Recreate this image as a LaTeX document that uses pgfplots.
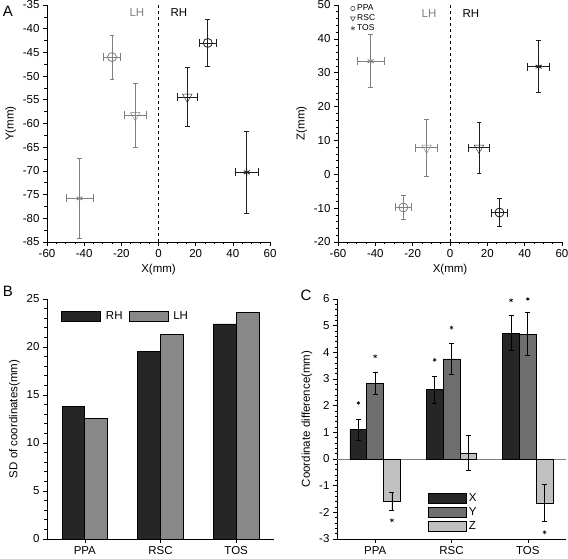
\documentclass[border=0pt]{standalone}
\usepackage{pgfplots}
\pgfplotsset{compat=1.18}
\usepackage{fontspec}
\setmainfont{Liberation Sans}
\definecolor{lhgray}{RGB}{128,128,128}
\definecolor{rhblack}{RGB}{30,30,30}
\definecolor{barX}{RGB}{38,38,38}
\definecolor{barY}{RGB}{110,110,110}
\definecolor{barZ}{RGB}{192,192,192}
\definecolor{barLH}{RGB}{136,136,136}
\pgfplotsset{
  myax/.style={scale only axis, axis lines*=left, tick align=outside,
    tick style={black, line width=0.6pt}, major tick length=4pt, minor tick length=2.5pt,
    axis line style={line width=0.8pt},
    every tick label/.append style={font=\fontsize{11.5}{12}\selectfont},
    label style={font=\fontsize{11.5}{12}\selectfont},
    /pgf/number format/assume math mode=true,
    clip=false},
  xerr/.style={draw=none, mark=none, error bars/x dir=both, error bars/x explicit,
    error bars/error bar style={line width=0.8pt, #1},
    error bars/error mark options={rotate=90, mark size=4pt, line width=0.8pt, #1}},
  yerr/.style={draw=none, #1, mark options={solid, line width=0.8pt, fill=none, #1},
    error bars/y dir=both, error bars/y explicit,
    error bars/error bar style={line width=0.8pt, #1},
    error bars/error mark options={rotate=90, mark size=2.3pt, line width=0.8pt, #1}},
  cerr/.style={error bars/y dir=both, error bars/y explicit,
    error bars/error bar style={line width=0.8pt, black},
    error bars/error mark options={rotate=90, mark size=2.5pt, line width=0.8pt, black}},
}
\begin{document}
\begin{tikzpicture}
\useasboundingbox (0,0) rectangle (568pt,559pt);
% ---------- Panel A left ----------
\begin{axis}[myax, at={(47pt,317pt)}, anchor=south west, width=223pt, height=237pt,
  xmin=-60, xmax=60, ymin=-85, ymax=-35,
  xtick={-60,-40,...,60}, minor x tick num=3,
  ytick={-85,-80,...,-35}, minor y tick num=1,
  xlabel={X(mm)}, ylabel={Y(mm)}]
\draw[dashed, black, line width=0.6pt] (axis cs:0,-85) -- (axis cs:0,-35);
\addplot[xerr=lhgray] coordinates {(-25,-46) +- (4.5,0) (-12.5,-58.3) +- (6,0) (-42.5,-75.8) +- (7.2,0)};
\addplot[xerr=rhblack] coordinates {(26.5,-43) +- (4.5,0) (15.5,-54.4) +- (5.5,0) (47.5,-70.3) +- (6,0)};
\addplot[yerr=lhgray, mark=o, mark size=4.5pt] coordinates {(-25,-46) +- (0,4.6)};
\addplot[yerr=lhgray, mark=triangle, mark size=5.5pt, mark options={rotate=180}] coordinates {(-12.5,-58.3) +- (0,6.8)};
\addplot[yerr=lhgray, mark=asterisk, mark size=3.5pt] coordinates {(-42.5,-75.8) +- (0,8.5)};
\addplot[yerr=rhblack, mark=o, mark size=4.5pt] coordinates {(26.5,-43) +- (0,5)};
\addplot[yerr=rhblack, mark=triangle, mark size=5.5pt, mark options={rotate=180}] coordinates {(15.5,-54.4) +- (0,6.2)};
\addplot[yerr=rhblack, mark=asterisk, mark size=3.5pt] coordinates {(47.5,-70.3) +- (0,8.7)};
\node[lhgray, font=\fontsize{11.5}{12}\selectfont] at (axis cs:-11.6,-36.6) {LH};
\node[black, font=\fontsize{11.5}{12}\selectfont] at (axis cs:11,-36.6) {RH};
\end{axis}
% ---------- Panel A right ----------
\begin{axis}[myax, at={(338pt,317pt)}, anchor=south west, width=224pt, height=237pt,
  xmin=-60, xmax=60, ymin=-20, ymax=50,
  xtick={-60,-40,...,60}, minor x tick num=3,
  ytick={-20,-10,...,50}, minor y tick num=4,
  xlabel={X(mm)}, ylabel={Z(mm)},
  legend style={at={(0.055,1.01)}, anchor=north west, draw=none, fill=none,
    font=\fontsize{8.5}{8.5}\selectfont, inner sep=0pt, row sep=-1.5pt,
    /tikz/every even column/.append style={column sep=1pt}},
  legend cell align=left]
\addlegendimage{only marks, mark=o, mark size=2.2pt, black!70, line width=0.6pt}
\addlegendentry{PPA}
\addlegendimage{only marks, mark=triangle, mark size=2.7pt, mark options={rotate=180}, black!70, line width=0.6pt}
\addlegendentry{RSC}
\addlegendimage{only marks, mark=asterisk, mark size=2.2pt, black!70, line width=0.6pt}
\addlegendentry{TOS}
\draw[dashed, black, line width=0.6pt] (axis cs:0,-20) -- (axis cs:0,50);
\addplot[xerr=lhgray, forget plot] coordinates {(-25,-9.8) +- (4.5,0) (-12.5,7.8) +- (6,0) (-42.5,33.4) +- (7.2,0)};
\addplot[xerr=rhblack, forget plot] coordinates {(26.5,-11.3) +- (4.5,0) (15.5,7.8) +- (5.5,0) (47.5,31.8) +- (6,0)};
\addplot[yerr=lhgray, forget plot, mark=o, mark size=4.5pt] coordinates {(-25,-9.8) +- (0,3.5)};
\addplot[yerr=lhgray, forget plot, mark=triangle, mark size=5.5pt, mark options={rotate=180}] coordinates {(-12.5,7.8) +- (0,8.4)};
\addplot[yerr=lhgray, forget plot, mark=asterisk, mark size=3.5pt] coordinates {(-42.5,33.4) +- (0,7.8)};
\addplot[yerr=rhblack, forget plot, mark=o, mark size=4.5pt] coordinates {(26.5,-11.3) +- (0,4.2)};
\addplot[yerr=rhblack, forget plot, mark=triangle, mark size=5.5pt, mark options={rotate=180}] coordinates {(15.5,7.8) +- (0,7.6)};
\addplot[yerr=rhblack, forget plot, mark=asterisk, mark size=3.5pt] coordinates {(47.5,31.8) +- (0,7.6)};
\node[lhgray, font=\fontsize{11.5}{12}\selectfont] at (axis cs:-11.2,47.6) {LH};
\node[black, font=\fontsize{11.5}{12}\selectfont] at (axis cs:11.2,47.6) {RH};
\end{axis}
% ---------- Panel B ----------
\begin{axis}[myax, at={(47pt,20pt)}, anchor=south west, width=227pt, height=240pt,
  ybar=0pt, bar width=0.3,
  xmin=-0.5, xmax=2.5, ymin=0, ymax=25,
  xtick={0,1,2}, xticklabels={PPA,RSC,TOS},
  ytick={0,5,...,25}, minor y tick num=4,
  ylabel={SD of coordinates(mm)},
  legend style={at={(0.062,0.958)}, anchor=north west, draw=none, fill=none,
    legend columns=2, font=\fontsize{11.5}{12}\selectfont, inner sep=0pt,
    /tikz/every even column/.append style={column sep=4pt},
    /tikz/every odd column/.append style={column sep=3pt}}]
\addplot[fill=barX, draw=black, line width=0.7pt,
  legend image code/.code={\draw[fill=barX, draw=black, line width=0.7pt] (0pt,-5pt) rectangle (39pt,5pt);}]
  coordinates {(0,13.8) (1,19.5) (2,22.4)};
\addlegendentry{RH}
\addplot[fill=barLH, draw=black, line width=0.7pt,
  legend image code/.code={\draw[fill=barLH, draw=black, line width=0.7pt] (0pt,-5pt) rectangle (39pt,5pt);}]
  coordinates {(0,12.6) (1,21.3) (2,23.6)};
\addlegendentry{LH}
\end{axis}
% ---------- Panel C ----------
\begin{axis}[myax, at={(337pt,20pt)}, anchor=south west, width=229pt, height=240pt,
  ybar=0pt, bar width=0.22,
  xmin=-0.5, xmax=2.5, ymin=-3, ymax=6,
  xtick={0,1,2}, xticklabels={PPA,RSC,TOS},
  ytick={-3,-2,...,6}, minor y tick num=4,
  ylabel={Coordinate difference(mm)},
  legend style={at={(0.397,0.2)}, anchor=north west, draw=none, fill=none,
    font=\fontsize{11.5}{12}\selectfont, inner sep=0pt, row sep=1pt,
    /tikz/every even column/.append style={column sep=3pt}},
  legend cell align=left]
\draw[gray, line width=0.8pt] (axis cs:-0.5,0) -- (axis cs:2.5,0);
\addplot[fill=barX, draw=black, line width=0.7pt, cerr,
  legend image code/.code={\draw[fill=barX, draw=black, line width=0.7pt] (0pt,-5pt) rectangle (38pt,5pt);}]
  coordinates {(0,1.1) +- (0,0.4) (1,2.6) +- (0,0.5) (2,4.72) +- (0,0.65)};
\addlegendentry{X}
\addplot[fill=barY, draw=black, line width=0.7pt, cerr,
  legend image code/.code={\draw[fill=barY, draw=black, line width=0.7pt] (0pt,-5pt) rectangle (38pt,5pt);}]
  coordinates {(0,2.83) +- (0,0.42) (1,3.75) +- (0,0.57) (2,4.68) +- (0,0.8)};
\addlegendentry{Y}
\addplot[fill=barZ, draw=black, line width=0.7pt, cerr,
  legend image code/.code={\draw[fill=barZ, draw=black, line width=0.7pt] (0pt,-5pt) rectangle (38pt,5pt);}]
  coordinates {(0,-1.58) +- (0,0.33) (1,0.22) +- (0,0.65) (2,-1.65) +- (0,0.7)};
\addlegendentry{Z}
\addplot[sharp plot, only marks, mark=asterisk, mark size=2pt, black, line width=0.5pt, forget plot]
  coordinates {(-0.22,2.1) (0,3.85) (0.22,-2.3) (0.78,3.72) (1,4.93) (1.78,5.95) (2,6.0) (2.22,-2.75)};
\end{axis}
\node[font=\fontsize{15}{15}\selectfont] at (8pt,548pt) {A};
\node[font=\fontsize{15}{15}\selectfont] at (8pt,268pt) {B};
\node[font=\fontsize{15}{15}\selectfont] at (306pt,264pt) {C};
\end{tikzpicture}
\end{document}
